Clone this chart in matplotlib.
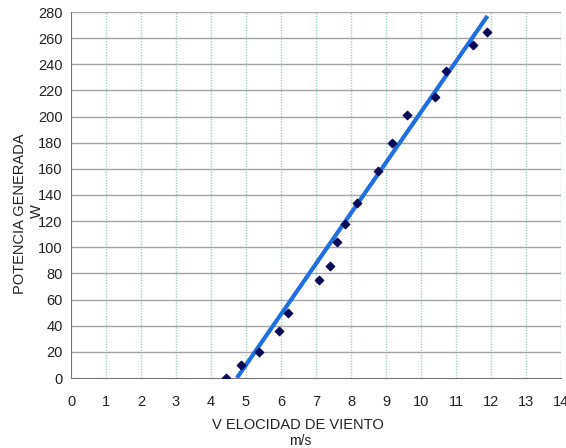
import numpy as np
import matplotlib
matplotlib.use("Agg")
import matplotlib.pyplot as plt

plt.rcParams['font.family'] = ['Liberation Sans', 'DejaVu Sans']

# measured points: wind speed (m/s) vs generated power (W)
velocidad = [4.43, 4.86, 5.37, 5.94, 6.2, 7.09, 7.4, 7.6, 7.83, 8.17,
             8.77, 9.17, 9.6, 10.4, 10.71, 11.49, 11.89]
potencia = [0, 10, 20, 36, 50, 75, 86, 104, 118, 134,
            158, 180, 201, 215, 235, 255, 265]

# trend line ends, as drawn in the chart
linea_x = [4.74, 11.9]
linea_y = [0, 277]

x_ticks = list(range(0, 15))
y_ticks = list(range(0, 281, 20))

fig = plt.figure(figsize=(5.66, 4.48), dpi=100)
ax = fig.add_axes([71 / 566, 70 / 448, 490 / 566, 366 / 448])

ax.set_xlim(0, 14)
ax.set_ylim(0, 280)
ax.set_xticks(x_ticks)
ax.set_yticks(y_ticks)

# grid: vertical teal dotted, horizontal gray
for xv in x_ticks[1:]:
    ax.axvline(xv, color='#9fcfc0', lw=1.0, ls=(0, (1, 1)), zorder=0)
for yv in y_ticks[1:]:
    ax.axhline(yv, color='#a4a4a4', lw=1.0, zorder=0)

for s in ['top', 'right']:
    ax.spines[s].set_visible(False)
ax.spines['left'].set_color('#777777')
ax.spines['bottom'].set_color('#777777')
ax.tick_params(length=0, labelsize=10.5, colors='#222222', pad=6)
ax.tick_params(axis='x', pad=12)

ax.plot(linea_x, linea_y, color='#1f6fe0', lw=3, solid_capstyle='butt', zorder=3)
ax.scatter(velocidad, potencia, marker='D', s=18, color='#0a0a5a', zorder=4)

fig.text(20 / 566, 1 - 214 / 448, 'POTENCIA GENERADA', rotation=90,
         ha='center', va='center', fontsize=10.5, color='#222222')
fig.text(37 / 566, 1 - 211 / 448, 'W', rotation=90,
         ha='center', va='center', fontsize=10.5, color='#222222')
fig.text(298 / 566, 1 - 425 / 448, 'V ELOCIDAD DE VIENTO',
         ha='center', va='center', fontsize=10.5, color='#222222')
fig.text(300 / 566, 1 - 441 / 448, 'm/s',
         ha='center', va='center', fontsize=10, color='#222222')

fig.savefig('out.png', dpi=100)
